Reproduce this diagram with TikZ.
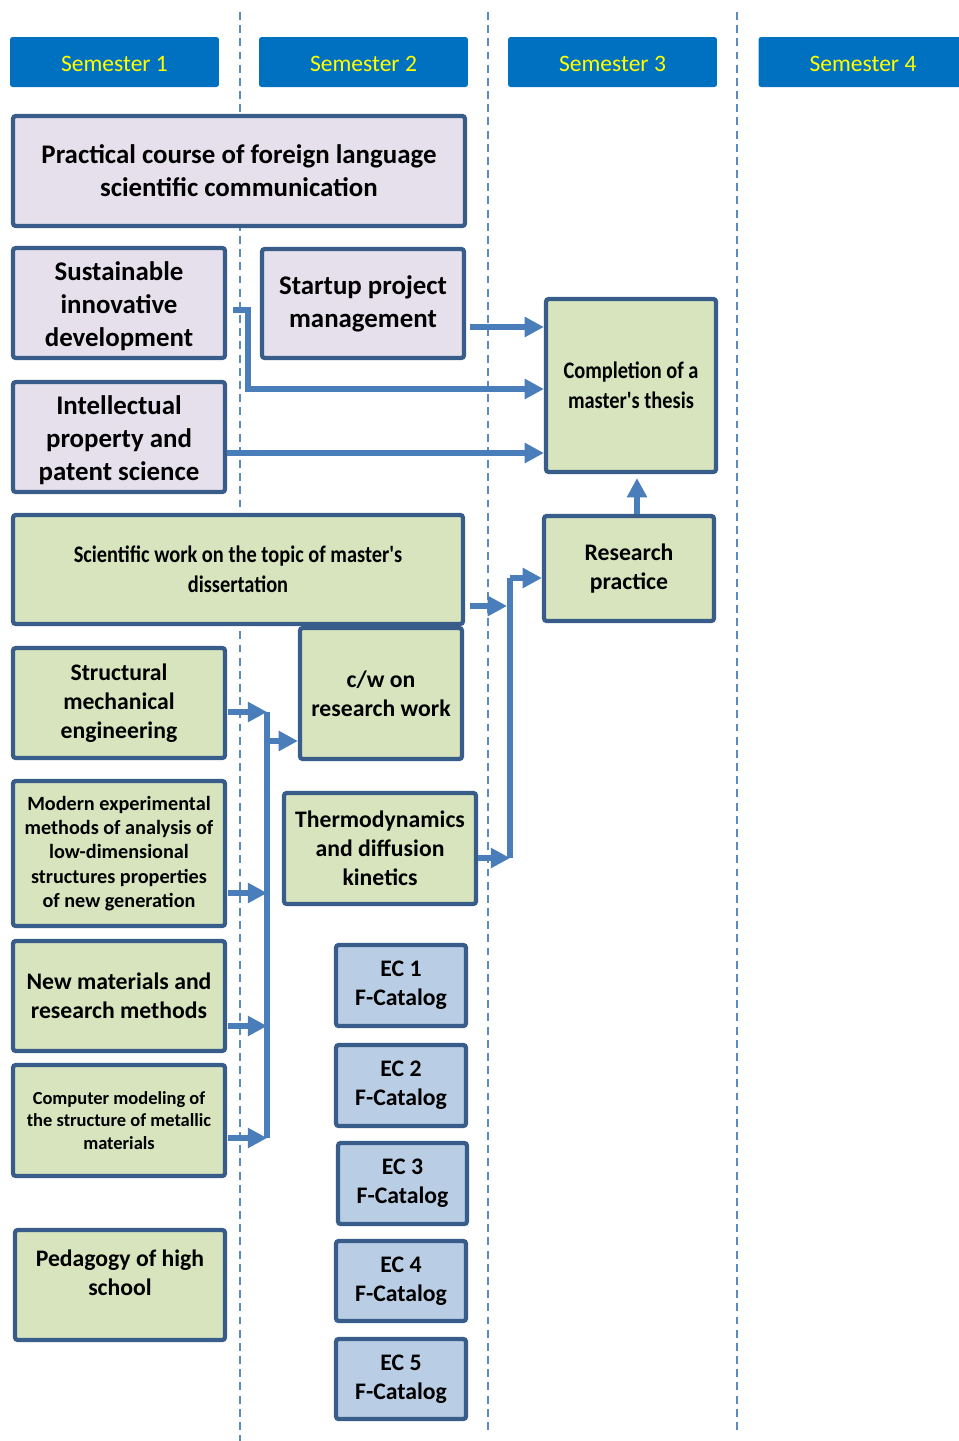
\documentclass[tikz,border=0pt]{standalone}
\usepackage{fontspec}
\setmainfont{Carlito}
\newfontfamily\narrowfont[FakeStretch=0.86]{Carlito}
\usetikzlibrary{arrows.meta,calc,positioning}

\definecolor{boxline}{RGB}{56,93,138}
\definecolor{lavfill}{RGB}{229,224,236}
\definecolor{greenfill}{RGB}{215,228,189}
\definecolor{ecfill}{RGB}{185,205,229}
\definecolor{semblue}{RGB}{0,112,192}
\definecolor{semtext}{RGB}{255,255,0}
\definecolor{flowblue}{RGB}{74,126,187}

\tikzset{
  sembox/.style={fill=semblue, rounded corners=1.5pt, inner sep=0pt,
    minimum width=4.18cm, minimum height=1.0cm, text=semtext, text height=11pt,
    font=\fontsize{13.4}{16}\selectfont},
  course/.style={draw=boxline, line width=2.4pt, rounded corners=1.5pt,
    inner sep=0pt, align=center},
  lang/.style={course, fill=lavfill, font=\fontsize{15.3}{18.7}\selectfont\bfseries},
  spec/.style={course, fill=greenfill, font=\fontsize{13.5}{16.4}\selectfont\bfseries},
  narrow/.style={course, fill=greenfill, font=\fontsize{13.5}{16.9}\selectfont\narrowfont\bfseries},
  elect/.style={course, fill=ecfill, minimum width=2.6cm, minimum height=1.62cm,
    font=\fontsize{13.5}{16.4}\selectfont\bfseries},
  flow/.style={draw=flowblue, line width=3.4pt, -{Triangle[length=11pt,width=11pt]}},
  bus/.style={draw=flowblue, line width=3.4pt, line join=miter},
  semline/.style={draw=flowblue!90, line width=1.2pt, dash pattern=on 4.5pt off 3pt}
}

\begin{document}
\begin{tikzpicture}[x=0.02cm, y=-0.02cm]
\useasboundingbox (0,0) rectangle (959,1441);

% semester borders
\draw[semline] (240,12) -- (240,1441);
\draw[semline] (488,12) -- (488,1435);
\draw[semline] (737,12) -- (737,1430);

% headers
\node[sembox] (sem1) at (114.5,62) {Semester 1};
\node[sembox] (sem2) at (363.5,62) {Semester 2};
\node[sembox] (sem3) at (612.5,62) {Semester 3};
\node[sembox] (sem4) at (863,62) {Semester 4};

% language and management
\node[lang, minimum width=9.04cm, minimum height=2.2cm] (pract) at (239,171)
  {Practical course of foreign language\\scientific communication};
\node[lang, minimum width=4.24cm, minimum height=2.2cm] (sid) at (119,303)
  {\rule{0pt}{14pt}Sustainable\\innovative\\development};
\node[lang, minimum width=4.04cm, minimum height=2.18cm] (spm) at (363,303.5)
  {Startup project\\management};
\node[lang, minimum width=4.24cm, minimum height=2.2cm] (ipps) at (119,437)
  {\rule{0pt}{14pt}Intellectual\\property and\\patent science};

% research
\node[narrow, minimum width=3.4cm, minimum height=3.46cm] (thesis) at (631,385.5)
  {Completion of a\\master's thesis};
\node[narrow, minimum width=9.0cm, minimum height=2.18cm] (sci) at (238,569.5)
  {Scientific work on the topic of master's\\dissertation};
\node[spec, minimum width=3.4cm, minimum height=2.1cm] (rp) at (629,568.5)
  {Research\\practice};
\node[spec, minimum width=3.24cm, minimum height=2.62cm] (cwrw) at (381,693.5)
  {c/w on\\research work};

% speciality
\node[spec, minimum width=4.24cm, minimum height=2.2cm] (sme) at (119,703)
  {Structural\\mechanical\\engineering};
\node[spec, minimum width=4.24cm, minimum height=2.9cm,
  font=\fontsize{11.5}{13.9}\selectfont\bfseries] (mem) at (119,853.5)
  {Modern experimental\\methods of analysis of\\low-dimensional\\structures properties\\of new generation};
\node[spec, minimum width=3.84cm, minimum height=2.22cm] (thdk) at (380,848.5)
  {Thermodynamics\\and diffusion\\kinetics};
\node[spec, minimum width=4.24cm, minimum height=2.2cm] (nmrm) at (119,996)
  {New materials and\\research methods};
\node[spec, minimum width=4.24cm, minimum height=2.22cm,
  font=\fontsize{10.5}{12.8}\selectfont\bfseries] (cmsm) at (119,1120.5)
  {Computer modeling of\\the structure of metallic\\materials};
\node[spec, minimum width=4.2cm, minimum height=2.2cm, text depth=14pt] (phs) at (120,1285)
  {Pedagogy of high\\school};

% electives
\node[elect] (ec1) at (401,985.5) {EC 1\\F-Catalog};
\node[elect] (ec2) at (401,1085.5) {EC 2\\F-Catalog};
\node[elect, minimum width=2.58cm] (ec3) at (402.5,1183.5) {EC 3\\F-Catalog};
\node[elect, minimum height=1.6cm] (ec4) at (401,1281) {EC 4\\F-Catalog};
\node[elect, minimum height=1.6cm] (ec5) at (401,1379) {EC 5\\F-Catalog};

% into the thesis
\coordinate (spmout) at ($(spm.east)+(4,23.5)$);
\draw[flow] (spmout) -- (spmout -| thesis.west);
\draw[flow] ($(sid.east)+(6,7)$) -- ++(15,0) |- ($(thesis.west)+(0,3.5)$);
\coordinate (ipout) at ($(ipps.east)+(0,16)$);
\draw[flow] (ipout) -- (ipout -| thesis.west);
\coordinate (rpup) at ($(rp.north)+(8,0)$);
\draw[flow] (rpup) -- ($(rpup |- thesis.south)+(0,4)$);

% right bus to research practice
\coordinate (thout) at ($(thdk.east)+(0,9.5)$);
\coordinate (rpin) at ($(rp.west)+(0,9.5)$);
\draw[flow] (thout) -- ++(32,0) coordinate (rbot);
\draw[bus] (rbot) -- (rbot |- rpin);
\draw[flow] (rbot |- rpin) -- (rpin);
\draw[flow] ($(sci.east)+(5,36.5)$) -- ++(37,0);

% left bus to c/w
\coordinate (smeout) at ($(sme.east)+(1,9)$);
\coordinate (memout) at ($(mem.east)+(1,39.5)$);
\coordinate (nmout) at ($(nmrm.east)+(1,30)$);
\coordinate (cmout) at ($(cmsm.east)+(1,17.5)$);
\coordinate (cwin) at ($(cwrw.west)+(0,47.5)$);
\draw[flow] (smeout) -- ++(39,0) coordinate (ltop);
\draw[flow] (memout) -- (memout -| ltop);
\draw[flow] (nmout) -- (nmout -| ltop);
\draw[flow] (cmout) -- (cmout -| ltop);
\draw[bus] (ltop) -- (ltop |- cmout);
\draw[flow] (ltop |- cwin) -- (cwin);
\end{tikzpicture}
\end{document}
